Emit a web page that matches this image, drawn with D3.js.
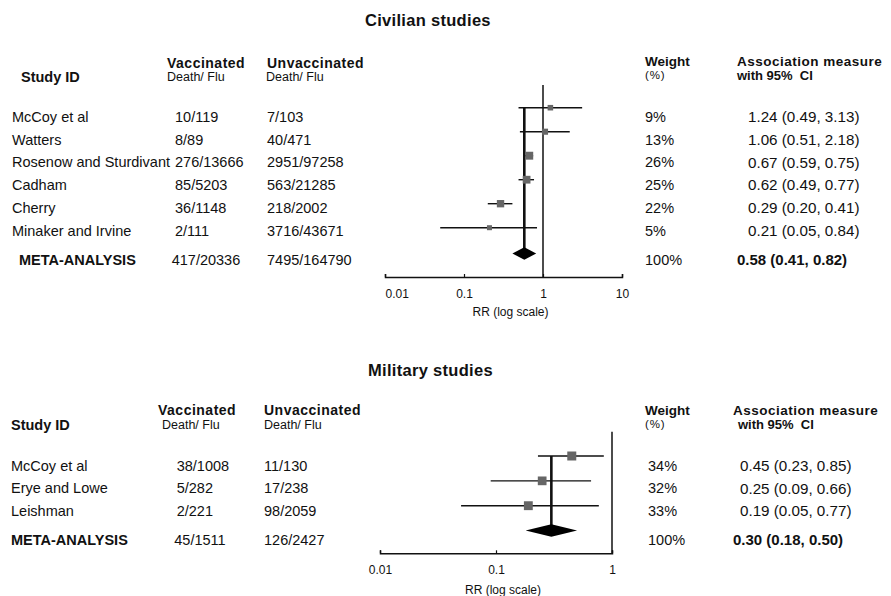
<!DOCTYPE html>
<html><head><meta charset="utf-8">
<script src="https://cdn.jsdelivr.net/npm/d3@7"></script>
<style>
body{margin:0;background:#fff;}
svg text{font-family:"Liberation Sans",Arial,sans-serif;fill:#111;}
</style></head>
<body><svg id="chart" width="891" height="596"></svg>
<script>
// ---------- Civilian data ----------
const civStudies = ["McCoy et al","Watters","Rosenow and Sturdivant","Cadham","Cherry","Minaker and Irvine"];
const civVacc    = ["10/119","8/89","276/13666","85/5203","36/1148","2/111"];
const civUnvacc  = ["7/103","40/471","2951/97258","563/21285","218/2002","3716/43671"];
const civWeight  = [9,13,26,25,22,5];
const civRR      = [1.24,1.06,0.67,0.62,0.29,0.21];
const civLo      = [0.49,0.51,0.59,0.49,0.20,0.05];
const civHi      = [3.13,2.18,0.75,0.77,0.41,0.84];
const civMetaRR  = [0.58,0.41,0.82];
const civMetaCounts = ["417/20336","7495/164790"];
const civTicks   = [0.01,0.1,1,10];

// ---------- Military data ----------
const milStudies = ["McCoy et al","Erye and Lowe","Leishman"];
const milVacc    = ["38/1008","5/282","2/221"];
const milUnvacc  = ["11/130","17/238","98/2059"];
const milWeight  = [34,32,33];
const milRR      = [0.45,0.25,0.19];
const milLo      = [0.23,0.09,0.05];
const milHi      = [0.85,0.66,0.77];
const milMetaRR  = [0.30,0.18,0.50];
const milMetaCounts = ["45/1511","126/2427"];
const milTicks   = [0.01,0.1,1];

const svg = d3.select("#chart");
const fmt = d3.format(".2f");
const sizeScale = d3.scaleLinear().domain([5,34]).range([5,9]);

function panel(o){
  const g = svg.append("g");
  const n = o.studies.length;
  // title
  g.append("text").attr("x",o.titleX).attr("y",o.titleY).attr("dy","0.35em")
    .attr("font-weight","bold").attr("font-size",16.5).attr("letter-spacing",0.3).text(o.title);
  // headers
  const hb = (x,y,t,fs,fw)=>g.append("text").attr("x",x).attr("y",y).attr("dy","0.35em")
      .attr("font-size",fs).attr("font-weight",fw||"normal").text(t);
  hb(o.hdr.study[0],o.hdr.study[1],"Study ID",14.5,"bold");
  hb(o.hdr.vacc[0],o.hdr.top,"Vaccinated",14,"bold").attr("letter-spacing",0.5);
  hb(o.hdr.vacc2,o.hdr.sub,"Death/ Flu",12.5);
  hb(o.hdr.unv,o.hdr.top,"Unvaccinated",14,"bold").attr("letter-spacing",0.5);
  hb(o.hdr.unv2,o.hdr.sub,"Death/ Flu",12.5);
  hb(o.hdr.w,o.hdr.top2,"Weight",13.5,"bold");
  hb(o.hdr.w,o.hdr.sub2,"(%)",11.5).attr("letter-spacing",0.8);
  hb(o.hdr.a,o.hdr.top2,"Association measure",13.5,"bold").attr("letter-spacing",0.5);
  hb(o.hdr.a2,o.hdr.sub2,"with 95%  CI",13,"bold").attr("xml:space","preserve");

  // row scales
  const textY = d3.scaleLinear().domain([0,n-1]).range(o.textRange);
  const markY = d3.scaleLinear().domain([0,n-1]).range(o.markRange);
  const x = d3.scaleLog().domain(o.domain).range(o.xRange);

  const rows = d3.range(n);
  const t = (xx,arr)=>g.selectAll(null).data(rows).join("text")
      .attr("x",xx).attr("y",i=>textY(i)).attr("dy","0.35em").attr("font-size",14.5)
      .text(i=>arr[i]);
  t(o.col.name,o.studies);
  t(o.col.vacc,o.vacc);
  t(o.col.unv,o.unvacc);
  t(o.col.w,o.weight.map(w=>w+"%"));
  t(o.col.ci,rows.map(i=>`${fmt(o.rr[i])} (${fmt(o.lo[i])}, ${fmt(o.hi[i])})`)).attr("font-size",15.2);

  // meta row text
  const mt = (xx,s,bold,fs)=>g.append("text").attr("x",xx).attr("y",o.metaTextY).attr("dy","0.35em")
      .attr("font-size",fs||14.5).attr("font-weight",bold?"bold":"normal").text(s);
  mt(o.col.metaName,"META-ANALYSIS",true);
  mt(o.col.metaVacc,o.metaCounts[0]);
  mt(o.col.metaUnv,o.metaCounts[1]);
  mt(o.col.w,"100%");
  mt(o.col.metaCi,`${fmt(o.meta[0])} (${fmt(o.meta[1])}, ${fmt(o.meta[2])})`,true,15);

  // axis
  const axis = d3.axisBottom(x).tickValues(o.ticks).tickFormat(d=>String(d))
      .tickSizeInner(-3).tickSizeOuter(-3).tickPadding(12);
  const ag = g.append("g").attr("transform",`translate(0,${o.axisY})`).call(axis);
  ag.select(".domain").attr("stroke","#111").attr("stroke-width",1.5);
  ag.selectAll(".tick line").attr("stroke","#111").attr("stroke-width",1.2);
  ag.selectAll(".tick text").attr("font-size",12).attr("fill","#111");
  if(o.firstStart) ag.selectAll(".tick text").filter((d,i)=>i===0).attr("text-anchor","start");
  g.append("text").attr("x",(o.xRange[0]+o.xRange[1])/2+7).attr("y",o.axisY+ (o.labelDy))
    .attr("dy","0.35em").attr("text-anchor","middle").attr("font-size",12).text("RR (log scale)");

  // line of no effect
  g.append("line").attr("x1",x(1)).attr("x2",x(1)).attr("y1",o.nullTop).attr("y2",o.axisY)
    .attr("stroke","#111").attr("stroke-width",1.5);
  // meta estimate line
  g.append("line").attr("x1",x(o.meta[0])).attr("x2",x(o.meta[0]))
    .attr("y1",markY(0)).attr("y2",o.diamondY)
    .attr("stroke","#111").attr("stroke-width",2.6);
  // CIs
  g.selectAll(null).data(rows).join("line")
    .attr("x1",i=>x(o.lo[i])).attr("x2",i=>x(o.hi[i]))
    .attr("y1",i=>markY(i)).attr("y2",i=>markY(i))
    .attr("stroke","#111").attr("stroke-width",1.4);
  // squares
  g.selectAll(null).data(rows).join("rect")
    .attr("x",i=>x(o.rr[i])-sizeScale(o.weight[i])/2)
    .attr("y",i=>markY(i)-sizeScale(o.weight[i])/2)
    .attr("width",i=>sizeScale(o.weight[i])).attr("height",i=>sizeScale(o.weight[i]))
    .attr("fill","#666");
  // diamond
  const dy = o.diamondY, h = 6.3;
  g.append("path").attr("d",`M${x(o.meta[1])},${dy} L${x(o.meta[0])},${dy-h} L${x(o.meta[2])},${dy} L${x(o.meta[0])},${dy+h} Z`)
    .attr("fill","#000");
}

panel({
  title:"Civilian studies", titleX:365, titleY:20,
  hdr:{study:[21,77],vacc:[167],vacc2:167,unv:267,unv2:266,top:63,sub:77,top2:61.5,sub2:75,w:645,a:737,a2:737},
  studies:civStudies,vacc:civVacc,unvacc:civUnvacc,weight:civWeight,rr:civRR,lo:civLo,hi:civHi,
  meta:civMetaRR,metaCounts:civMetaCounts,ticks:civTicks,
  textRange:[116.7,230.5], markRange:[107.7,227.7], metaTextY:260, diamondY:253.5,
  col:{name:12,vacc:175,unv:267,w:645,ci:748,metaName:19,metaVacc:171.7,metaUnv:267,metaCi:737},
  domain:[0.01,10], xRange:[385,622], axisY:277, nullTop:85, labelDy:34.5, firstStart:true
});
panel({
  title:"Military studies", titleX:368, titleY:370,
  hdr:{study:[11,425],vacc:[158],vacc2:162,unv:264,unv2:264,top:410.5,sub:425,top2:410,sub2:424,w:645,a:733,a2:738},
  studies:milStudies,vacc:milVacc,unvacc:milUnvacc,weight:milWeight,rr:milRR,lo:milLo,hi:milHi,
  meta:milMetaRR,metaCounts:milMetaCounts,ticks:milTicks,
  textRange:[466,510.7], markRange:[456,505.7], metaTextY:540, diamondY:530.5,
  col:{name:11,vacc:176.7,unv:264,w:648,ci:740,metaName:11,metaVacc:174.3,metaUnv:264,metaCi:733},
  domain:[0.01,1], xRange:[380,612], axisY:553.3, nullTop:431.7, labelDy:36.7, firstStart:false
});
</script></body></html>
